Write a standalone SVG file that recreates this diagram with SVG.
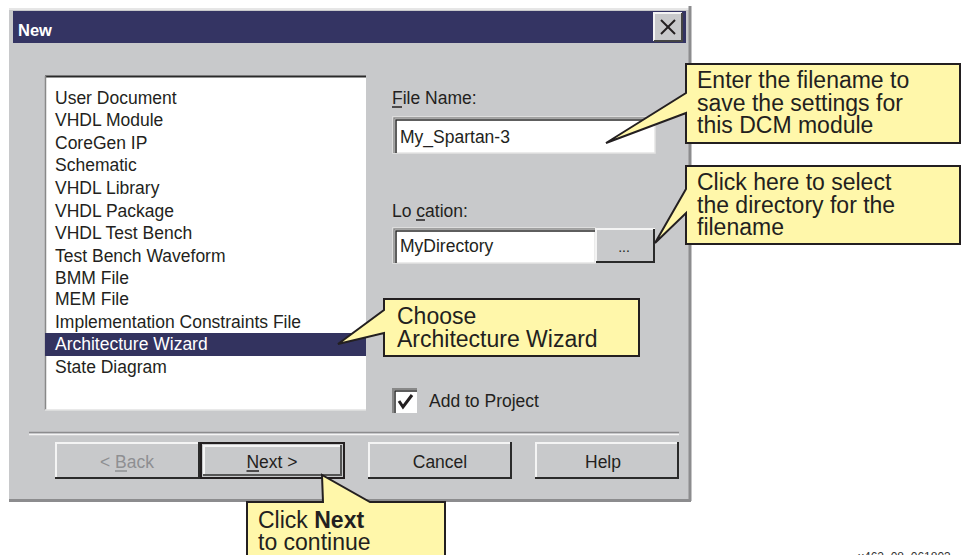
<svg xmlns="http://www.w3.org/2000/svg" width="961" height="555" viewBox="0 0 961 555">
<style>
.t{font-family:"Liberation Sans",Arial,Helvetica,sans-serif;fill:#231f20}
.li{font-size:17.5px}
.co{font-size:23px}
.bt{font-size:17.5px;text-anchor:middle}
.callout{fill:#fff7aa;stroke:#231f20;stroke-width:2;stroke-linejoin:miter}
.dk{stroke:#2a2a2a;stroke-width:2;fill:none}
.md{stroke:#888;stroke-width:1.5;fill:none}
.lt{stroke:#f4f4f4;stroke-width:2;fill:none}
.ul{stroke:#231f20;stroke-width:1.5}
</style>
<rect width="961" height="555" fill="#ffffff"/>

<g id="dialog">
  <rect x="9" y="8" width="682" height="494" fill="#c8c9cb"/>
  <line x1="9" y1="9" x2="690" y2="9" stroke="#e6e6e6" stroke-width="2"/>
  <line x1="690" y1="6" x2="690" y2="501" stroke="#8c8c8e" stroke-width="3"/>
  <line x1="9" y1="500.5" x2="691" y2="500.5" stroke="#8c8c8e" stroke-width="3"/>
  <rect x="13" y="11" width="673" height="32" fill="#343463"/>
  <text x="18" y="36" class="t" style="font-size:16.5px;font-weight:bold;fill:#ffffff">New</text>
</g>

<g id="close-button">
  <rect x="654" y="13" width="28" height="28" fill="#c8c9cb"/>
  <polyline points="654,41 654,13 682,13" class="lt"/>
  <polyline points="654,41 682,41 682,13" stroke="#444" stroke-width="2" fill="none"/>
  <line x1="661" y1="20" x2="675" y2="34" stroke="#231f20" stroke-width="2"/>
  <line x1="675" y1="20" x2="661" y2="34" stroke="#231f20" stroke-width="2"/>
</g>

<g id="list-box">
  <rect x="45" y="76" width="321" height="334" fill="#ffffff"/>
  <line x1="45" y1="76.5" x2="366" y2="76.5" class="dk"/>
  <line x1="45.5" y1="76" x2="45.5" y2="410" class="md"/>
  <line x1="45" y1="410" x2="366" y2="410" stroke="#e2e2e2" stroke-width="1.5"/>
  <rect x="45" y="333" width="321" height="23" fill="#33335f"/>
  <g class="t li">
    <text x="55" y="104">User Document</text>
    <text x="55" y="126">VHDL Module</text>
    <text x="55" y="148.5">CoreGen IP</text>
    <text x="55" y="171">Schematic</text>
    <text x="55" y="194">VHDL Library</text>
    <text x="55" y="217">VHDL Package</text>
    <text x="55" y="239">VHDL Test Bench</text>
    <text x="55" y="262">Test Bench Waveform</text>
    <text x="55" y="284">BMM File</text>
    <text x="55" y="305">MEM File</text>
    <text x="55" y="328">Implementation Constraints File</text>
    <text x="55" y="350" style="fill:#ffffff">Architecture Wizard</text>
    <text x="55" y="373">State Diagram</text>
  </g>
</g>

<g id="file-name">
  <text x="392" y="104" class="t li">File Name:</text>
  <line x1="392" y1="107" x2="402" y2="107" class="ul"/>
  <rect x="393" y="117" width="262" height="36" fill="#ffffff" stroke="#e4e4e4" stroke-width="1.5"/>
  <polyline points="394,153 394,118 655,118" class="md"/>
  <polyline points="396,153 396,120 655,120" stroke="#2a2a2a" stroke-width="1.5" fill="none"/>
  <text x="400" y="143" class="t li">My_Spartan-3</text>
</g>

<g id="location">
  <text x="392" y="217" class="t li">Lo cation:</text>
  <line x1="416" y1="220" x2="425" y2="220" class="ul"/>
  <rect x="393" y="228" width="202" height="35" fill="#ffffff" stroke="#e4e4e4" stroke-width="1.5"/>
  <polyline points="394,263 394,229 595,229" class="md"/>
  <polyline points="396,263 396,231 595,231" stroke="#2a2a2a" stroke-width="1.5" fill="none"/>
  <text x="400" y="252" class="t li">MyDirectory</text>
</g>

<g id="browse-button">
  <rect x="595" y="228" width="60" height="35" fill="#c8c9cb"/>
  <polyline points="596,263 596,229 655,229" class="lt"/>
  <polyline points="596,262 654,262 654,229" stroke="#2a2a2a" stroke-width="2" fill="none"/>
  <text x="624" y="252" class="t" style="font-size:14px;text-anchor:middle">...</text>
</g>

<g id="add-to-project">
  <rect x="392" y="388" width="25" height="25" fill="#ffffff"/>
  <polyline points="393,413 393,389 417,389" stroke="#888" stroke-width="2" fill="none"/>
  <polyline points="395,413 395,391 417,391" stroke="#2a2a2a" stroke-width="1.5" fill="none"/>
  <polyline points="399,401 403,407 412,395" stroke="#231f20" stroke-width="3" fill="none"/>
  <text x="429" y="407" class="t li">Add to Project</text>
</g>

<g id="separator">
  <line x1="29" y1="432.5" x2="679" y2="432.5" stroke="#8c8c8e" stroke-width="1.5"/>
  <line x1="29" y1="434.5" x2="679" y2="434.5" stroke="#f4f4f4" stroke-width="1.5"/>
</g>

<g id="back-button">
  <rect x="55" y="442" width="144" height="37" fill="#c8c9cb"/>
  <polyline points="56,478 56,443 199,443" class="lt"/>
  <polyline points="55,478 199,478 199,442" stroke="#2a2a2a" stroke-width="2" fill="none"/>
  <text x="127" y="468" class="t bt" style="fill:#8e8f92">&lt; Back</text>
  <line x1="115" y1="471" x2="127" y2="471" stroke="#8e8f92" stroke-width="1.5"/>
</g>

<g id="next-button">
  <rect x="201" y="443" width="143" height="35" fill="#c8c9cb" stroke="#231f20" stroke-width="2"/>
  <polyline points="204,476 204,446 341,446" class="lt"/>
  <polyline points="203,475 341,475 341,445" stroke="#555" stroke-width="2" fill="none"/>
  <text x="272" y="468" class="t bt">Next &gt;</text>
  <line x1="246.5" y1="471" x2="259" y2="471" class="ul"/>
</g>

<g id="cancel-button">
  <rect x="368" y="442" width="143" height="37" fill="#c8c9cb"/>
  <polyline points="369,478 369,443 511,443" class="lt"/>
  <polyline points="368,478 511,478 511,442" stroke="#2a2a2a" stroke-width="2" fill="none"/>
  <text x="440" y="468" class="t bt">Cancel</text>
</g>

<g id="help-button">
  <rect x="535" y="442" width="143" height="37" fill="#c8c9cb"/>
  <polyline points="536,478 536,443 678,443" class="lt"/>
  <polyline points="535,478 678,478 678,442" stroke="#2a2a2a" stroke-width="2" fill="none"/>
  <text x="603" y="468" class="t bt">Help</text>
</g>

<g id="callouts">
  <g id="callout-filename">
    <path d="M686,64 H960 V143 H686 V113 L606,143 L686,93 Z" class="callout"/>
    <text class="t co"><tspan x="697" y="88">Enter the filename to</tspan><tspan x="697" y="110.5">save the settings for</tspan><tspan x="697" y="133">this DCM module</tspan></text>
  </g>
  <g id="callout-directory">
    <path d="M686,166 H960 V244 H686 V213 L655,243 L686,189 Z" class="callout"/>
    <text class="t co"><tspan x="697" y="190">Click here to select</tspan><tspan x="697" y="212.5">the directory for the</tspan><tspan x="697" y="235">filename</tspan></text>
  </g>
  <g id="callout-wizard">
    <path d="M384,299 H639 V356 H384 V333 L338,344 L384,310 Z" class="callout"/>
    <text class="t co"><tspan x="397" y="324">Choose</tspan><tspan x="397" y="347">Architecture Wizard</tspan></text>
  </g>
  <g id="callout-next">
    <path d="M247,502 H323 L322,475 L370,502 H445 V562 H247 Z" class="callout"/>
    <text class="t co"><tspan x="258" y="528">Click <tspan style="font-weight:bold">Next</tspan></tspan><tspan x="258" y="550">to continue</tspan></text>
  </g>
</g>

<text x="858" y="561" class="t" style="font-size:12px;fill:#333">x462_08_061803</text>
</svg>
